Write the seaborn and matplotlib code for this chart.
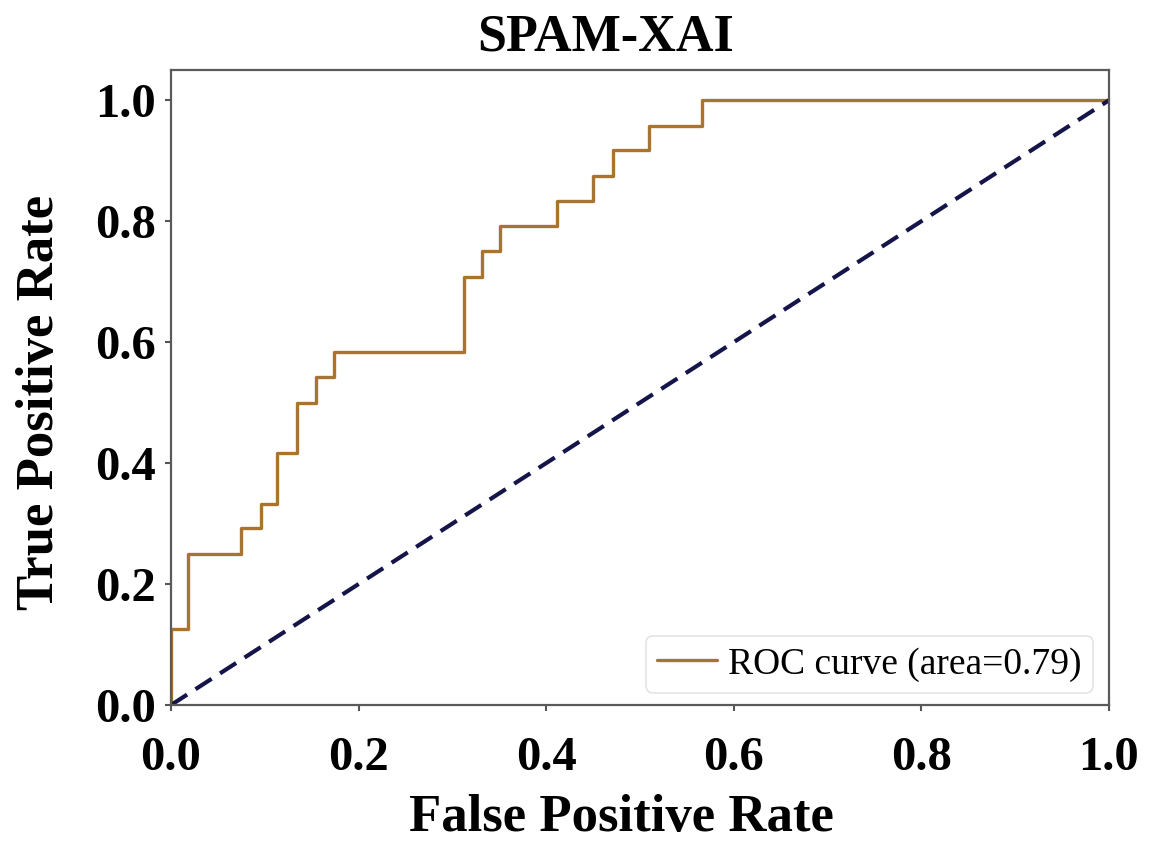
import matplotlib
matplotlib.use("Agg")
import matplotlib.pyplot as plt
import seaborn as sns
import pandas as pd

# ROC curve vertices (FPR, TPR)
fpr = [0.0, 0.0, 0.018, 0.018, 0.075, 0.075, 0.096, 0.096, 0.113, 0.113,
       0.134, 0.134, 0.155, 0.155, 0.174, 0.174, 0.312, 0.312, 0.332, 0.332,
       0.351, 0.351, 0.411, 0.411, 0.450, 0.450, 0.471, 0.471, 0.510, 0.510,
       0.566, 0.566, 1.0]
tpr = [0.0, 0.125, 0.125, 0.25, 0.25, 0.292, 0.292, 0.333, 0.333, 0.417,
       0.417, 0.5, 0.5, 0.542, 0.542, 0.583, 0.583, 0.708, 0.708, 0.75,
       0.75, 0.792, 0.792, 0.833, 0.833, 0.875, 0.875, 0.917, 0.917, 0.958,
       0.958, 1.0, 1.0]
chance_x = [0.0, 1.0]
chance_y = [0.0, 1.0]
roc_auc = 0.79
title = "SPAM-XAI"
xlabel = "False Positive Rate"
ylabel = "True Positive Rate"
xticks = [0.0, 0.2, 0.4, 0.6, 0.8, 1.0]
yticks = [0.0, 0.2, 0.4, 0.6, 0.8, 1.0]

sns.set_theme(style="ticks")
plt.rcParams['font.family'] = ['Liberation Serif', 'DejaVu Serif']
plt.rcParams['text.color'] = 'black'
plt.rcParams['axes.labelcolor'] = 'black'
plt.rcParams['xtick.labelcolor'] = 'black'
plt.rcParams['ytick.labelcolor'] = 'black'

fig = plt.figure(figsize=(11.64, 8.42), dpi=100)
ax = fig.add_axes([171/1164, 1 - 705/842, (1109-171)/1164, (705-70)/842])

df = pd.DataFrame({"fpr": fpr, "tpr": tpr})
sns.lineplot(data=df, x="fpr", y="tpr", sort=False, estimator=None, ax=ax,
             color="#A8742F", linewidth=2.4,
             label="ROC curve (area=%0.2f)" % roc_auc)
sns.lineplot(x=chance_x, y=chance_y, ax=ax, color="#15154A", linewidth=3.0,
             linestyle=(0, (4.6, 2.4)), sort=False, estimator=None)

ax.set_xlim(0.0, 1.0)
ax.set_ylim(0.0, 1.05)
ax.set_xticks(xticks)
ax.set_yticks(yticks)
ax.set_xticklabels([f"{v:.1f}" for v in xticks])
ax.set_yticklabels([f"{v:.1f}" for v in yticks])
ax.tick_params(axis="both", labelsize=35, length=4, width=1.5, color="#555555",
               direction="out")
ax.tick_params(axis="x", pad=18)
ax.tick_params(axis="y", pad=7)
for lab in ax.get_xticklabels() + ax.get_yticklabels():
    lab.set_fontweight("bold")
for s in ax.spines.values():
    s.set_color("#5a5a5a")
    s.set_linewidth(1.6)

ax.set_xlabel(xlabel, fontsize=38, fontweight="bold")
ax.xaxis.set_label_coords(0.48, -0.140)
ax.set_ylabel(ylabel, fontsize=38, fontweight="bold")
ax.yaxis.set_label_coords(-0.114, 0.477)
ax.set_title(title, fontsize=37.5, fontweight="bold", pad=14, x=0.463)

leg = ax.legend(loc="lower right", bbox_to_anchor=(0.983, 0.019),
                fontsize=27, frameon=True, handlelength=1.6,
                borderpad=0.3, handletextpad=0.3, borderaxespad=0.0)
leg.get_frame().set_edgecolor("#dddddd")
leg.get_frame().set_linewidth(1.2)

fig.savefig("out.png", dpi=100)
